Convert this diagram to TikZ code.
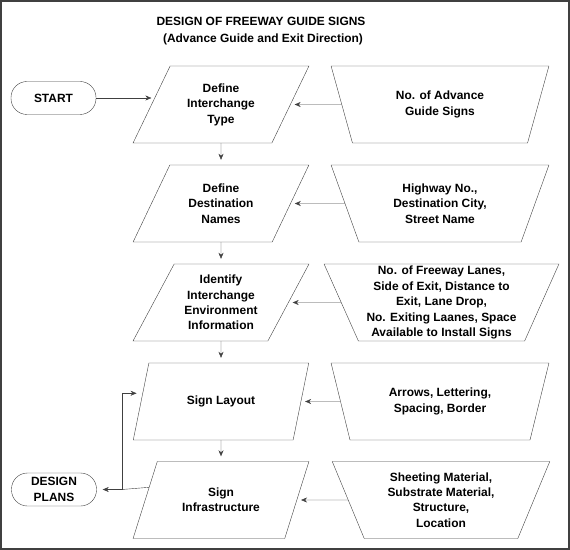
\documentclass[tikz,border=0pt]{standalone}
\usepackage{fontspec}
\setmainfont{Liberation Sans}
\usetikzlibrary{positioning, shapes.geometric, arrows.meta}
\definecolor{linegray}{HTML}{404040}

\begin{document}
\begin{tikzpicture}[x=1bp, y=-1bp,
    font=\bfseries\fontsize{12}{15.5}\selectfont,
    task/.style={shape=trapezium, trapezium left angle=60, trapezium right angle=120, trapezium stretches, draw=linegray, minimum width=176bp, minimum height=77bp, align=center, inner sep=1bp},
    input/.style={shape=trapezium, trapezium left angle=68, trapezium right angle=68, shape border rotate=180, trapezium stretches, draw=linegray, minimum width=218bp, minimum height=77bp, align=center, inner sep=0bp},
    terminal/.style={shape=rectangle, rounded corners=16bp, draw=linegray, minimum width=85bp, minimum height=33bp, align=center, inner sep=1bp},
    flow/.style={-{Stealth[length=6bp, width=5bp]}, draw=linegray}]
    \useasboundingbox (0,0) rectangle (570,550);
    \draw[linegray, line width=2bp] (1,1) rectangle (569,549);

    % title
    \node (title) at (261,21) {DESIGN OF FREEWAY GUIDE SIGNS};
    \node (subtitle) at (263,39) {(Advance Guide and Exit Direction)};

    % main steps
    \node[task] (interchange) at (221,104.5) {Define\\Interchange\\Type};
    \node[task] (destination) at (221,203.5) {Define\\Destination\\Names};
    \node[task] (environment) at (221,302.5) {Identify\\Interchange\\Environment\\Information};
    \node[task] (layout) at (221,401.5) {Sign Layout};
    \node[task] (infrastructure) at (221,500) {Sign\\Infrastructure};

    % inputs
    \node[input] (guidesigns) at (440,104.5) {No. of Advance\\Guide Signs};
    \node[input] (highway) at (440,203.5) {Highway No.,\\Destination City,\\Street Name};
    \node[input, minimum width=235bp, trapezium left angle=67, trapezium right angle=67] (lanes) at (441.5,302.5) {No. of Freeway Lanes,\\Side of Exit, Distance to\\Exit, Lane Drop,\\No. Exiting Laanes, Space\\Available to Install Signs};
    \node[input] (arrows) at (440,401.5) {Arrows, Lettering,\\Spacing, Border};
    \node[input] (sheeting) at (441,500) {Sheeting Material,\\Substrate Material,\\Structure,\\Location};

    % terminals
    \node[terminal] (start) at (53.5,98) {START};
    \node[terminal] (plans) at (54,489.5) {DESIGN\\PLANS};

    \draw[flow] (start) -- (start -| interchange.west);
    \foreach \a/\b in {interchange/destination, destination/environment, environment/layout, layout/infrastructure}
        \draw[flow, shorten >=5bp] (\a) -- (\b);
    \foreach \a/\b in {guidesigns/interchange, highway/destination, lanes/environment, arrows/layout, sheeting/infrastructure}
        \draw[flow, shorten >=4bp] (\a) -- (\b);

    % loop back
    \coordinate (split) at (122,489.5);
    \draw[linegray] (infrastructure.170) -- (split);
    \draw[flow, shorten >=6bp] (split) -- (plans);
    \draw[flow, shorten >=6bp] (split) |- (layout.174);
\end{tikzpicture}
\end{document}
